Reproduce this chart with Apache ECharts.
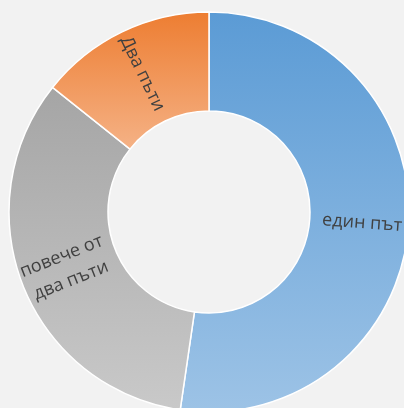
<!DOCTYPE html>
<html>
<head>
<meta charset="utf-8">
<script src="https://cdn.jsdelivr.net/npm/echarts@6/dist/echarts.min.js"></script>
<style>
html,body{margin:0;padding:0;background:#f2f2f2;}
#c{width:404px;height:408px;}
</style>
</head>
<body>
<div id="c"></div>
<script>
const categories = ['един път', 'повече от\nдва пъти', 'Два пъти'];
const values = [52.3, 33.4, 14.3];
const topColors = ['#5b9bd5', '#a5a5a5', '#ed7d31'];
const bottomColors = ['#9dc3e6', '#c9c9c9', '#f5b286'];

const chart = echarts.init(document.getElementById('c'));
chart.setOption({
  backgroundColor: '#f2f2f2',
  animation: false,
  series: [{
    type: 'pie',
    center: [209, 212],
    radius: [101, 200],
    startAngle: 90,
    clockwise: true,
    avoidLabelOverlap: false,
    itemStyle: { borderColor: '#ffffff', borderWidth: 1.5 },
    label: {
      show: true,
      position: 'inside',
      rotate: 'radial',
      color: '#404040',
      fontSize: 18,
      fontFamily: 'Open Sans',
      lineHeight: 26
    },
    labelLine: { show: false },
    data: categories.map((c, i) => ({
      name: c,
      value: values[i],
      itemStyle: {
        color: {
          type: 'linear', x: 0, y: 0, x2: 0, y2: 1,
          colorStops: [
            { offset: 0, color: topColors[i] },
            { offset: 1, color: bottomColors[i] }
          ]
        }
      }
    }))
  }]
});
</script>
</body>
</html>
